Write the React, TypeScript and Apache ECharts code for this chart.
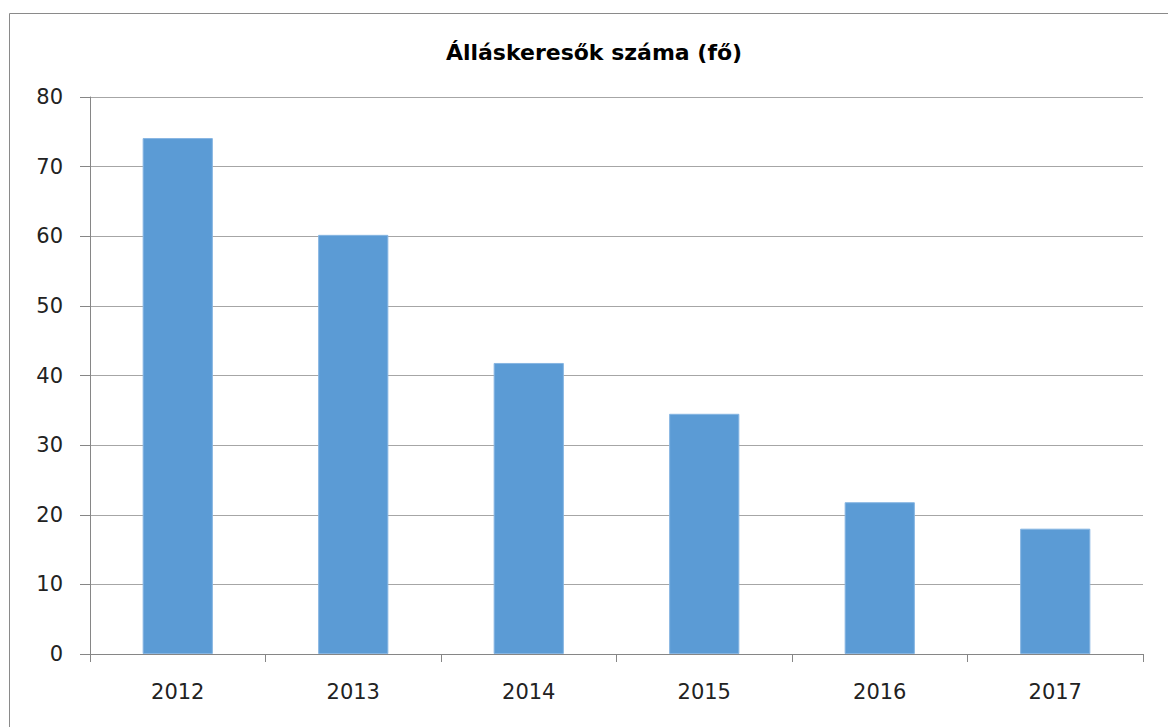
import React, { useEffect, useRef } from "react";
import * as echarts from "echarts";

const TITLE = "Álláskeresők száma (fő)";
const categories = ["2012", "2013", "2014", "2015", "2016", "2017"];
const values = [74.1, 60.2, 41.8, 34.5, 21.8, 18.0];
const yTicks = { min: 0, max: 80, interval: 10 };

export default function App() {
  const ref = useRef<HTMLDivElement>(null);
  useEffect(() => {
    document.body.style.margin = "0";
    const chart = echarts.init(ref.current!, null, { renderer: "svg" });
    chart.setOption({
      animation: false,
      backgroundColor: "#ffffff",
      title: {
        text: TITLE,
        left: 589,
        top: 36,
        textAlign: "center",
        textStyle: {
          fontFamily: "DejaVu Sans",
          fontWeight: "bold",
          fontSize: 22,
          color: "#000000",
        },
      },
      graphic: [
        {
          type: "rect",
          shape: { x: 9.5, y: 13.5, width: 1300, height: 900 },
          style: { fill: "none", stroke: "#8a8a8a", lineWidth: 1 },
          silent: true,
        },
      ],
      grid: { left: 90, right: 25, top: 97, bottom: 73, containLabel: false },
      xAxis: {
        type: "category",
        data: categories,
        boundaryGap: true,
        axisLine: { show: true, lineStyle: { color: "#868686", width: 1 } },
        axisTick: { show: true, length: 8, lineStyle: { color: "#868686" } },
        axisLabel: {
          fontFamily: "DejaVu Sans",
          fontSize: 21,
          color: "#222222",
          margin: 27,
        },
      },
      yAxis: {
        type: "value",
        min: yTicks.min,
        max: yTicks.max,
        interval: yTicks.interval,
        axisLine: { show: true, lineStyle: { color: "#868686", width: 1 } },
        axisTick: { show: true, inside: false, length: 10, lineStyle: { color: "#868686" } },
        axisLabel: {
          fontFamily: "DejaVu Sans",
          fontSize: 21,
          color: "#222222",
          margin: 27,
        },
        splitLine: { show: true, lineStyle: { color: "#a6a6a6", width: 1 } },
      },
      series: [
        {
          type: "bar",
          data: values,
          barWidth: "40%",
          itemStyle: { color: "#5b9bd5", borderColor: "#86b5e2", borderWidth: 1 },
        },
      ],
    });
    return () => chart.dispose();
  }, []);
  return <div ref={ref} style={{ width: 1168, height: 727 }} />;
}
